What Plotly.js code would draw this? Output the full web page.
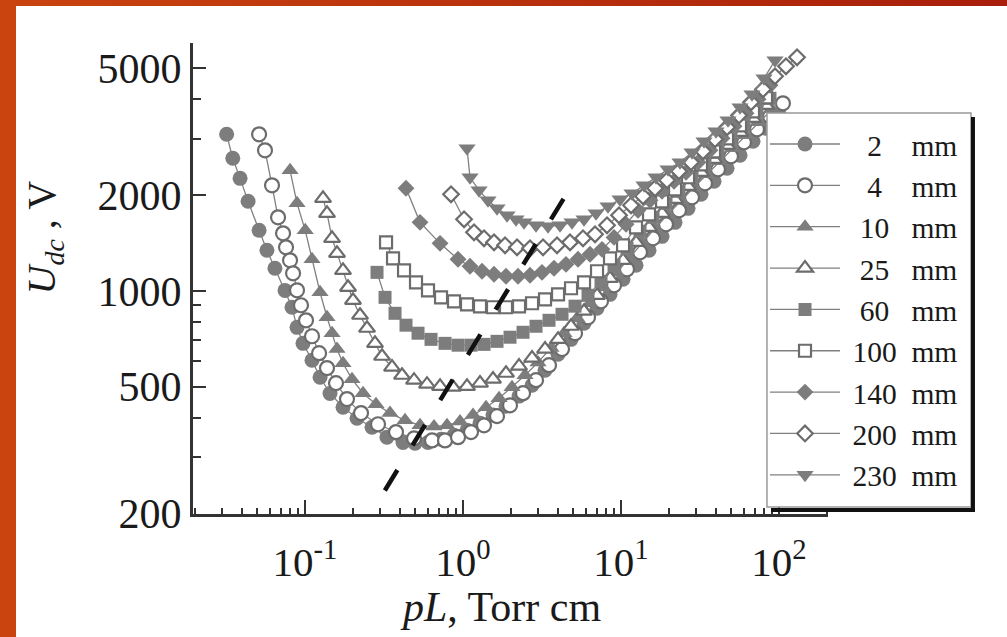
<!DOCTYPE html>
<html><head><meta charset="utf-8">
<script src="https://cdn.plot.ly/plotly-3.0.1.min.js"></script>
<style>
html,body{margin:0;padding:0;width:1007px;height:637px;overflow:hidden;background:linear-gradient(to right,#c9440f,#a81e0b);}
#plot{position:absolute;left:16px;top:6px;width:991px;height:631px;background:#fff;}
</style></head><body><div id="plot"></div>
<script>
// gap lengths (mm)
const gapLabels = ['2','4','10','25','60','100','140','200','230'];

// pL (Torr cm) and U_dc (V)
const x2 = [0.0319,0.0349,0.0388,0.0436,0.0512,0.0574,0.0645,0.0747,0.0827,0.089,0.0971,0.1107,0.1245,0.1439,0.174,0.2134,0.2655,0.330,0.417,0.497,0.600,0.726,0.877,1.06,1.281,1.548,1.871,2.262,2.734,3.304,3.993,4.826,5.833,7.05,8.518,10.3,12.44,15.04,18.18,21.97,26.56,32.08,38.78,46.88,56.65,68.46,82.75,100];
const y2 = [3102,2608,2256,1911,1549,1341,1177,1003,888,768,684,605,535,476,431,398,373,347,334,332,334,342,352,365,384,407,434,467,505,563,632,704,791,882,975,1087,1203,1341,1483,1641,1816,2010,2208,2426,2665,2950,3240,3585];

const x4 = [0.0512,0.0558,0.0618,0.0675,0.0726,0.0758,0.0804,0.084,0.089,0.0943,0.1015,0.1107,0.1227,0.1378,0.1571,0.1844,0.2262,0.2897,0.3766,0.4897,0.6366,0.7693,0.9298,1.124,1.358,1.641,1.984,2.398,2.898,3.502,4.233,5.116,6.183,7.471,9.03,10.91,13.19,15.94,19.26,23.28,28.14,34.0,41.09,49.67,60.02,72.53,87.66,105.9];
const y4 = [3102,2763,2145,1702,1516,1370,1247,1135,1004,901,808,720,637,572,513,457,413,381,360,344,339,339,347,360,378,404,437,477,524,584,656,736,826,927,1041,1169,1322,1462,1618,1790,1966,2176,2408,2646,2928,3217,3532,3882];

const x10 = [0.0804,0.089,0.1003,0.1107,0.1244,0.1378,0.1483,0.1594,0.1739,0.1983,0.2329,0.2813,0.3451,0.4295,0.5344,0.6553,0.792,0.9572,1.157,1.398,1.69,2.042,2.468,2.984,3.606,4.357,5.266,6.366,7.693,9.299,11.24,13.58,16.41,19.84,23.98,28.97,35.02,42.33,51.16,61.82,74.71,90.31];
const y10 = [2391,1883,1549,1256,990,826,736,656,592,528,477,440,413,392,378,375,378,389,407,431,460,498,543,596,661,736,820,914,1026,1143,1274,1420,1572,1739,1924,2114,2323,2551,2804,3080,3383,3717];

const x25 = [0.13,0.1378,0.1483,0.1594,0.1739,0.1872,0.2012,0.2229,0.2468,0.2773,0.3072,0.3553,0.4111,0.4897,0.5917,0.7154,0.8643,1.06,1.281,1.548,1.871,2.262,2.734,3.304,3.993,4.826,5.833,7.05,8.518,10.3,12.44,15.04,18.18,21.97,26.56,32.08,38.78,46.88,56.65,68.46,82.75];
const y25 = [1952,1752,1462,1312,1160,1026,934,838,763,684,623,576,543,524,509,501,498,501,513,528,551,580,615,656,704,774,863,968,1095,1247,1420,1583,1752,1938,2130,2357,2589,2865,3147,3482,3826];

const x60 = [0.2856,0.3209,0.3712,0.4357,0.5191,0.6273,0.7693,0.9298,1.124,1.358,1.641,1.984,2.398,2.898,3.502,4.233,5.116,6.183,7.471,9.03,10.91,13.19,15.94,19.26,23.28,28.14,34.0,41.09,49.67,60.02,72.53,87.66];
const y60 = [1143,954,850,780,736,704,684,675,675,679,694,715,741,774,808,844,895,968,1071,1203,1360,1538,1702,1883,2054,2274,2497,2723,3014,3311,3663,4025];

const x100 = [0.3257,0.3606,0.4233,0.504,0.6004,0.7258,0.8771,1.06,1.281,1.548,1.871,2.262,2.734,3.304,3.993,4.826,5.833,7.05,8.518,10.3,12.44,15.04,18.18,21.97,26.56,32.08,38.78,46.88,56.65,68.46,82.75];
const y100 = [1420,1265,1160,1063,1004,954,927,907,894,888,888,894,914,940,975,1019,1063,1152,1265,1390,1583,1739,1910,2084,2274,2497,2743,3014,3311,3663,4054];

const x140 = [0.4357,0.5344,0.7154,0.9298,1.107,1.319,1.571,1.871,2.229,2.655,3.162,3.766,4.486,5.344,6.366,7.581,9.03,10.76,12.81,15.26,18.18,21.65,25.79,30.72,36.58,43.58,51.91,61.82,73.65,87.7];
const y140 = [2099,1641,1410,1256,1194,1152,1127,1111,1111,1119,1143,1177,1211,1256,1303,1350,1472,1618,1790,1924,2054,2208,2357,2533,2763,3014,3287,3611,3996,4421];

const x200 = [0.8397,1.015,1.174,1.358,1.571,1.845,2.197,2.655,3.209,3.935,4.755,5.748,6.845,8.154,9.712,11.57,13.78,16.41,19.55,23.28,27.73,33.04,39.35,46.88,55.84,66.51,79.21,94.34,110.7,130.0];
const y200 = [2010,1678,1527,1462,1420,1390,1370,1360,1370,1390,1420,1462,1505,1606,1727,1856,1981,2099,2224,2374,2533,2743,2992,3263,3558,3910,4295,4719,5072,5415];

const x230 = [1.06,1.107,1.263,1.439,1.641,1.899,2.165,2.433,2.897,3.451,4.111,4.897,5.833,6.948,8.274,9.856,11.74,13.98,16.65,19.84,23.63,28.14,33.52,39.93,47.56,56.65,67.48,80.37,94.34];
const y230 = [2804,2274,2069,1924,1816,1727,1678,1641,1606,1594,1606,1641,1678,1752,1843,1938,2025,2145,2274,2408,2533,2723,2950,3170,3432,3771,4142,4651,5298];

// dashed locus of minima
const minLocusX = [0.32, 4.42];
const minLocusY = [236, 1980];

// axis tick labels
const xTickVals = [0.1, 1, 10, 100];
const xTickText = ['10<sup>-1</sup>','10<sup>0</sup>','10<sup>1</sup>','10<sup>2</sup>'];
const yTickVals = [200, 500, 1000, 2000, 5000];
const yTickText = ['200','500','1000','2000','5000'];

const seriesX = [x2,x4,x10,x25,x60,x100,x140,x200,x230];
const seriesY = [y2,y4,y10,y25,y60,y100,y140,y200,y230];
const symbols = ['circle','circle','triangle-up','triangle-up','square','square','diamond','diamond','triangle-down'];
const filled = [true,false,true,false,true,false,true,false,true];
const sizes = [15,14,15,14,13,12,13,12,15];

const FONT = 'Liberation Serif, Times New Roman, serif';
const GREY = '#7d7d7d';

function legendName(lbl){
  const NB='\u00A0', FS='\u2007', PS='\u2008';
  let body = lbl.length===1 ? FS+lbl+FS : (lbl.length===2 ? PS+lbl+PS : lbl);
  return NB + body + NB + NB + 'mm';
}

const traces = seriesX.map((xs,i)=>({
  x: xs, y: seriesY[i], type:'scatter', mode:'lines+markers',
  name: legendName(gapLabels[i]),
  line:{color:'#808080', width:1.3},
  marker:{symbol:symbols[i], size:sizes[i],
    color: filled[i] ? GREY : '#ffffff',
    line:{color: filled[i] ? GREY : '#6c6c6c', width: filled[i] ? 0 : 2.2}},
  hoverinfo:'skip'
}));
traces.push({x:minLocusX, y:minLocusY, type:'scatter', mode:'lines',
  line:{color:'#111', width:4.5, dash:'24px,29px'}, showlegend:false, hoverinfo:'skip'});

const xMinor = [];
for (let d=-2; d<=2; d++) for (let k=2;k<=9;k++){ const v=k*Math.pow(10,d); if (v>0.0196 && v<204) xMinor.push(v); }
const yMinor = [300,400,600,700,800,900,3000,4000,6000];

const layout = {
  width:991, height:631,
  margin:{l:177, r:179, t:37, b:123, autoexpand:false},
  paper_bgcolor:'#ffffff', plot_bgcolor:'#ffffff',
  font:{family:FONT, color:'#1a1a1a'},
  showlegend:true,
  xaxis:{type:'log', range:[-1.709, 2.31], tickmode:'array', tickvals:xTickVals, ticktext:xTickText,
    ticks:'inside', ticklen:14, tickwidth:2, tickcolor:'#333', ticklabelstandoff:10,
    showline:true, linewidth:3, linecolor:'#333', showgrid:false, zeroline:false,
    tickfont:{family:FONT, size:41, color:'#1a1a1a'},
    minor:{tickmode:'array', tickvals:xMinor, ticks:'inside', ticklen:6, tickwidth:2, tickcolor:'#333', showgrid:false}},
  yaxis:{type:'log', range:[2.299, 3.7785], tickmode:'array', tickvals:yTickVals, ticktext:yTickText,
    ticks:'inside', ticklen:13, tickwidth:2, tickcolor:'#333',
    showline:true, linewidth:3, linecolor:'#333', showgrid:false, zeroline:false,
    tickfont:{family:FONT, size:42, color:'#1a1a1a'},
    minor:{tickmode:'array', tickvals:yMinor, ticks:'inside', ticklen:8, tickwidth:2, tickcolor:'#333', showgrid:false}},
  legend:{x:0.9008, y:0.8401, xanchor:'left', yanchor:'top', bgcolor:'rgba(0,0,0,0)', borderwidth:0,
    itemwidth:70, font:{family:FONT, size:29.5, color:'#1a1a1a'}, traceorder:'normal'},
  shapes:[
    {type:'rect', xref:'paper', yref:'paper', x0:0.9039, x1:1.2252, y0:0.0149, y1:0.8514,
     fillcolor:'#ffffff', line:{color:'#999', width:1.5}, layer:'above'},
    {type:'line', xref:'paper', yref:'paper', x0:1.2283, x1:1.2283, y0:0.8429, y1:0.0085,
     line:{color:'#111', width:4}, layer:'above'},
    {type:'line', xref:'paper', yref:'paper', x0:0.9102, x1:1.2315, y0:0.0085, y1:0.0085,
     line:{color:'#111', width:4}, layer:'above'}
  ],
  annotations:[
    {xref:'paper', yref:'paper', x:-0.234, y:0.588, xanchor:'center', yanchor:'middle', textangle:-90, showarrow:false,
     text:'<i>U</i><sub><i>dc</i></sub> , V', font:{family:FONT, size:40, color:'#1a1a1a'}},
    {xref:'paper', yref:'paper', x:0.4835, y:-0.1975, xanchor:'center', yanchor:'middle', showarrow:false,
     text:'<i>pL</i>, Torr cm', font:{family:FONT, size:42, color:'#1a1a1a'}}
  ]
};
Plotly.newPlot('plot', traces, layout, {staticPlot:true, displayModeBar:false});
</script></body></html>
